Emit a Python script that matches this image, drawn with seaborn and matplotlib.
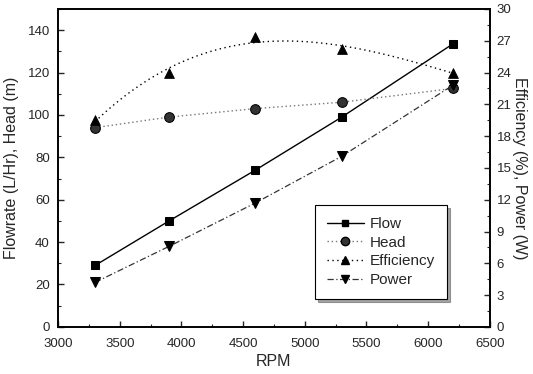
import numpy as np
import pandas as pd
import seaborn as sns
import matplotlib
matplotlib.use("Agg")
import matplotlib.pyplot as plt
from matplotlib.lines import Line2D
from matplotlib.ticker import MultipleLocator

rpm = [3300, 3900, 4600, 5300, 6200]
flow = [29, 50, 74, 99, 133.5]
head = [94, 99, 103, 106, 112.5]
efficiency = [19.5, 24.0, 27.4, 26.2, 24.0]
power = [4.2, 7.6, 11.7, 16.1, 22.8]

sns.set_style("ticks")
plt.rcParams['font.family'] = ['Liberation Sans', 'DejaVu Sans']

fig = plt.figure(figsize=(5.33, 3.74), dpi=100)
ax = fig.add_axes([0.109, 0.126, 0.81, 0.85])
ax2 = ax.twinx()

sns.lineplot(x=rpm, y=flow, ax=ax, color='k', lw=1.0, marker='s', markersize=6,
             markeredgecolor='k', linestyle='-')
sns.lineplot(x=rpm, y=head, ax=ax, color='#777777', lw=1.0, marker='o', markersize=7,
             markerfacecolor='#333333', markeredgecolor='k', linestyle=(0, (1, 2)))
sns.regplot(x=rpm, y=efficiency, ax=ax2, order=3, ci=None, scatter=False, truncate=True,
            line_kws=dict(color='k', lw=1.0, linestyle=(0, (1, 2.5))))
sns.scatterplot(x=rpm, y=efficiency, ax=ax2, color='k', marker='^', s=50, edgecolor='k')
sns.lineplot(x=rpm, y=power, ax=ax2, color='#333333', lw=0.9, marker='v', markersize=7,
             markerfacecolor='k', markeredgecolor='k', linestyle=(0, (5, 2, 1, 2)))

ax.set_xlim(3000, 6500)
ax.set_ylim(0, 150)
ax2.set_ylim(0, 30)
ax.set_xticks(np.arange(3000, 6501, 500))
ax.set_yticks(np.arange(0, 141, 20))
ax2.set_yticks(np.arange(0, 31, 3))
ax.xaxis.set_minor_locator(MultipleLocator(250))
ax.yaxis.set_minor_locator(MultipleLocator(10))
ax2.yaxis.set_minor_locator(MultipleLocator(1.5))

for a in (ax, ax2):
    a.tick_params(which='major', direction='in', length=4, width=1, labelsize=9.5)
    a.tick_params(which='minor', direction='in', length=2, width=0.8)
    for s in a.spines.values():
        s.set_visible(True)
        s.set_linewidth(1.2)
        s.set_color('k')
ax.tick_params(axis='x', which='major', pad=8)
ax.tick_params(axis='y', which='major', pad=6)
ax2.tick_params(axis='y', which='major', pad=5)

ax.set_xlabel("RPM", fontsize=11.5, labelpad=3)
ax.set_ylabel("Flowrate (L/Hr), Head (m)", fontsize=11.5, labelpad=6)
ax2.set_ylabel("Efficiency (%), Power (W)", fontsize=11.5, rotation=270, labelpad=11)

handles = [
    Line2D([], [], color='k', lw=1.0, marker='s', markersize=5, linestyle='-'),
    Line2D([], [], color='#777777', lw=1.0, marker='o', markersize=6, markerfacecolor='#333333',
           markeredgecolor='k', linestyle=(0, (1, 2))),
    Line2D([], [], color='k', lw=1.0, marker='^', markersize=6, linestyle=(0, (1, 2.5))),
    Line2D([], [], color='#333333', lw=0.9, marker='v', markersize=6, markerfacecolor='k',
           markeredgecolor='k', linestyle=(0, (5, 2, 1, 2))),
]
leg = ax2.legend(handles, ["Flow", "Head", "Efficiency", "Power"], loc='lower left',
                 bbox_to_anchor=(0.577, 0.063), frameon=True, fancybox=False, shadow=True,
                 fontsize=11, handlelength=2.4, labelspacing=0.3, borderpad=0.8,
                 handletextpad=0.4, edgecolor='k')
leg.get_frame().set_linewidth(0.8)

fig.savefig("out.png", dpi=100)
